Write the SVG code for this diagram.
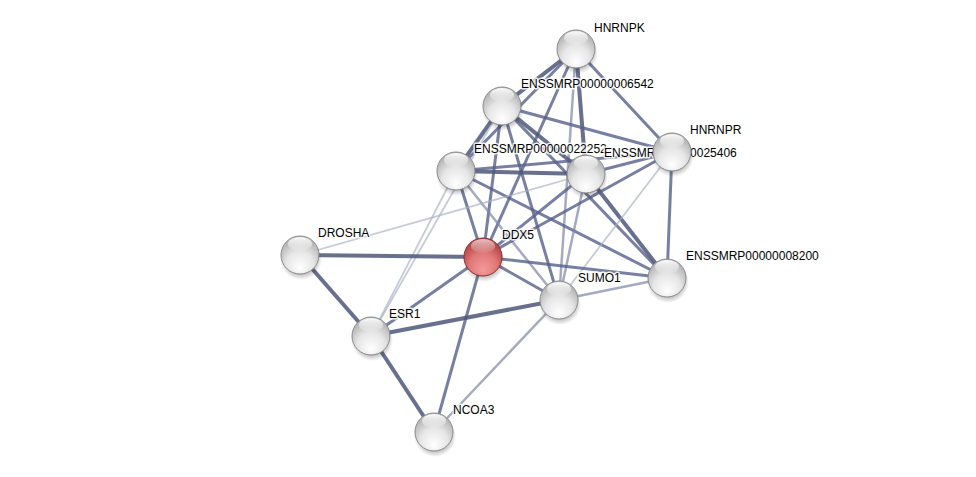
<svg xmlns="http://www.w3.org/2000/svg" width="976" height="477" viewBox="0 0 976 477">
<defs>
<radialGradient id="gGray" cx="50%" cy="70%" r="60%" fx="50%" fy="85%">
<stop offset="0" stop-color="#ffffff"/>
<stop offset="0.6" stop-color="#e6e6e6"/>
<stop offset="1" stop-color="#b8b8b8"/>
</radialGradient>
<radialGradient id="gRed" cx="50%" cy="70%" r="60%" fx="50%" fy="85%">
<stop offset="0" stop-color="#f59a9a"/>
<stop offset="0.6" stop-color="#e07878"/>
<stop offset="1" stop-color="#b84848"/>
</radialGradient>
<linearGradient id="gHi" x1="0" y1="0" x2="0" y2="1">
<stop offset="0" stop-color="#ffffff" stop-opacity="0.95"/>
<stop offset="1" stop-color="#ffffff" stop-opacity="0.1"/>
</linearGradient>
<radialGradient id="gShadow" cx="50%" cy="50%" r="50%">
<stop offset="0.6" stop-color="#000" stop-opacity="0.35"/>
<stop offset="1" stop-color="#000" stop-opacity="0"/>
</radialGradient>
</defs>
<style>
.e1{stroke:#4e5779;stroke-width:4;stroke-opacity:0.85;fill:none}
.e2{stroke:#56608a;stroke-width:3;stroke-opacity:0.8;fill:none}
.e3{stroke:#7d86a6;stroke-width:2.5;stroke-opacity:0.7;fill:none}
.e4{stroke:#a8aec4;stroke-width:1.8;stroke-opacity:0.65;fill:none}
.sh{fill:url(#gShadow)}
.ball{fill:url(#gGray);stroke:#8a8a8a;stroke-width:1}
.red{fill:url(#gRed);stroke:#8a2e2e;stroke-width:1}
.hi{fill:url(#gHi)}
.lbl{font-family:"Liberation Sans",Arial,sans-serif;font-size:12px;fill:#000;stroke:#fff;stroke-width:3;stroke-opacity:0.85;paint-order:stroke;stroke-linejoin:round}
</style>
<rect width="976" height="477" fill="#fff"/>
<g id="edges">
<line class="e1" x1="576" y1="49" x2="502" y2="106"/>
<line class="e2" x1="576" y1="49" x2="456" y2="171"/>
<line class="e2" x1="576" y1="49" x2="483" y2="257"/>
<line class="e3" x1="576" y1="49" x2="559" y2="300"/>
<line class="e1" x1="576" y1="49" x2="586" y2="174"/>
<line class="e2" x1="576" y1="49" x2="672" y2="152"/>
<line class="e1" x1="502" y1="106" x2="456" y2="171"/>
<line class="e1" x1="502" y1="106" x2="586" y2="174"/>
<line class="e2" x1="502" y1="106" x2="672" y2="152"/>
<line class="e2" x1="502" y1="106" x2="483" y2="257"/>
<line class="e2" x1="502" y1="106" x2="559" y2="300"/>
<line class="e2" x1="502" y1="106" x2="667" y2="278"/>
<line class="e4" x1="502" y1="106" x2="371" y2="336"/>
<line class="e1" x1="456" y1="171" x2="586" y2="174"/>
<line class="e2" x1="456" y1="171" x2="672" y2="152"/>
<line class="e2" x1="456" y1="171" x2="483" y2="257"/>
<line class="e3" x1="456" y1="171" x2="559" y2="300"/>
<line class="e2" x1="456" y1="171" x2="667" y2="278"/>
<line class="e4" x1="456" y1="171" x2="371" y2="336"/>
<line class="e2" x1="586" y1="174" x2="672" y2="152"/>
<line class="e1" x1="586" y1="174" x2="667" y2="278"/>
<line class="e2" x1="586" y1="174" x2="483" y2="257"/>
<line class="e3" x1="586" y1="174" x2="559" y2="300"/>
<line class="e4" x1="586" y1="174" x2="300" y2="255"/>
<line class="e2" x1="672" y1="152" x2="667" y2="278"/>
<line class="e4" x1="672" y1="152" x2="559" y2="300"/>
<line class="e2" x1="672" y1="152" x2="483" y2="257"/>
<line class="e1" x1="483" y1="257" x2="300" y2="255"/>
<line class="e2" x1="483" y1="257" x2="371" y2="336"/>
<line class="e2" x1="483" y1="257" x2="434" y2="432"/>
<line class="e2" x1="483" y1="257" x2="559" y2="300"/>
<line class="e2" x1="483" y1="257" x2="667" y2="278"/>
<line class="e1" x1="559" y1="300" x2="371" y2="336"/>
<line class="e3" x1="559" y1="300" x2="434" y2="432"/>
<line class="e3" x1="559" y1="300" x2="667" y2="278"/>
<line class="e1" x1="371" y1="336" x2="300" y2="255"/>
<line class="e1" x1="371" y1="336" x2="434" y2="432"/>
</g>
<g id="n-DROSHA">
<ellipse class="sh" cx="301" cy="259" rx="21" ry="21"/>
<circle class="ball" cx="300" cy="255" r="19"/>
<ellipse class="hi" cx="300" cy="244" rx="12" ry="7"/>
<text class="lbl" x="318" y="237">DROSHA</text>
</g>
<g id="n-ESR1">
<ellipse class="sh" cx="372" cy="340" rx="21" ry="21"/>
<circle class="ball" cx="371" cy="336" r="19"/>
<ellipse class="hi" cx="371" cy="325" rx="12" ry="7"/>
<text class="lbl" x="389" y="318">ESR1</text>
</g>
<g id="n-NCOA3">
<ellipse class="sh" cx="435" cy="436" rx="21" ry="21"/>
<circle class="ball" cx="434" cy="432" r="19"/>
<ellipse class="hi" cx="434" cy="421" rx="12" ry="7"/>
<text class="lbl" x="453" y="414">NCOA3</text>
</g>
<g id="n-DDX5">
<ellipse class="sh" cx="484" cy="261" rx="21" ry="21"/>
<circle class="red" cx="483" cy="257" r="19"/>
<ellipse class="hi" cx="483" cy="246" rx="12" ry="7" opacity="0.7"/>
<text class="lbl" x="502" y="239">DDX5</text>
</g>
<g id="n-SUMO1">
<ellipse class="sh" cx="560" cy="304" rx="21" ry="21"/>
<circle class="ball" cx="559" cy="300" r="19"/>
<ellipse class="hi" cx="559" cy="289" rx="12" ry="7"/>
<text class="lbl" x="578" y="282">SUMO1</text>
</g>
<g id="n-ENSSMRP00000008200">
<ellipse class="sh" cx="668" cy="282" rx="21" ry="21"/>
<circle class="ball" cx="667" cy="278" r="19"/>
<ellipse class="hi" cx="667" cy="267" rx="12" ry="7"/>
<text class="lbl" x="686" y="260">ENSSMRP00000008200</text>
</g>
<g id="n-HNRNPK">
<ellipse class="sh" cx="577" cy="53" rx="21" ry="21"/>
<circle class="ball" cx="576" cy="49" r="19"/>
<ellipse class="hi" cx="576" cy="38" rx="12" ry="7"/>
<text class="lbl" x="594" y="32">HNRNPK</text>
</g>
<g id="n-ENSSMRP00000006542">
<ellipse class="sh" cx="503" cy="110" rx="21" ry="21"/>
<circle class="ball" cx="502" cy="106" r="19"/>
<ellipse class="hi" cx="502" cy="95" rx="12" ry="7"/>
<text class="lbl" x="521" y="88">ENSSMRP00000006542</text>
</g>
<g id="n-ENSSMRP00000022252">
<ellipse class="sh" cx="457" cy="175" rx="21" ry="21"/>
<circle class="ball" cx="456" cy="171" r="19"/>
<ellipse class="hi" cx="456" cy="160" rx="12" ry="7"/>
<text class="lbl" x="474" y="153">ENSSMRP00000022252</text>
</g>
<g id="n-ENSSMRP00000025406">
<ellipse class="sh" cx="587" cy="178" rx="21" ry="21"/>
<circle class="ball" cx="586" cy="174" r="19"/>
<ellipse class="hi" cx="586" cy="163" rx="12" ry="7"/>
<text class="lbl" x="604" y="157">ENSSMRP00000025406</text>
</g>
<g id="n-HNRNPR">
<ellipse class="sh" cx="673" cy="156" rx="21" ry="21"/>
<circle class="ball" cx="672" cy="152" r="19"/>
<ellipse class="hi" cx="672" cy="141" rx="12" ry="7"/>
<text class="lbl" x="690" y="134">HNRNPR</text>
</g>
</svg>
